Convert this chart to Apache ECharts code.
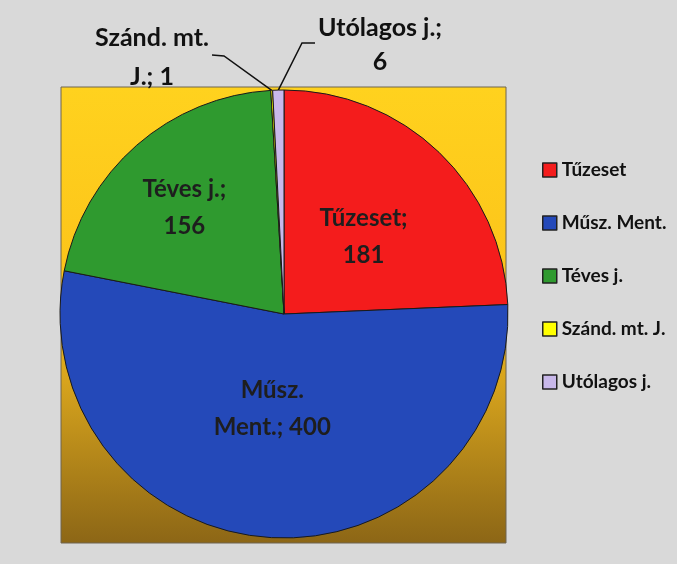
<!DOCTYPE html>
<html>
<head>
<meta charset="utf-8">
<script src="https://cdn.jsdelivr.net/npm/echarts@6/dist/echarts.min.js"></script>
<style>
  html, body { margin: 0; padding: 0; background: #d9d9d9; }
  #chart { width: 677px; height: 564px; }
</style>
</head>
<body>
<div id="chart"></div>
<script>
const categories = ['Tűzeset', 'Műsz. Ment.', 'Téves j.', 'Szánd. mt. J.', 'Utólagos j.'];
const values = [181, 400, 156, 1, 6];
const labelHeads = ['Tűzeset;\n', 'Műsz.\nMent.; ', 'Téves j.;\n', 'Szánd. mt.\nJ.; ', 'Utólagos j.;\n'];
const colors = ['#f41c1c', '#2449b9', '#2f9a2f', '#ffff00', '#c8b8ea'];

const chart = echarts.init(document.getElementById('chart'));

const option = {
    backgroundColor: '#d9d9d9',
    animation: false,
    graphic: [{
        type: 'rect',
        z: 0,
        shape: { x: 61, y: 87, width: 445, height: 456 },
        style: {
            fill: new echarts.graphic.LinearGradient(0, 0, 0, 1, [
                { offset: 0, color: '#ffd21e' },
                { offset: 0.42, color: '#fcc41a' },
                { offset: 0.65, color: '#d6a31d' },
                { offset: 1, color: '#8c6616' }
            ]),
            stroke: '#6e6450',
            lineWidth: 1
        }
    }],
    legend: {
        orient: 'vertical',
        left: 537,
        top: 155,
        itemWidth: 14,
        itemHeight: 14,
        itemGap: 33,
        icon: 'rect',
        itemStyle: { borderColor: '#222', borderWidth: 1.5 },
        textStyle: {
            fontFamily: 'Lato',
            fontWeight: 'bold',
            fontSize: 19,
            lineHeight: 20,
            color: '#111'
        },
        data: categories
    },
    series: [{
        type: 'pie',
        center: [284, 314],
        radius: 224,
        startAngle: 90,
        clockwise: true,
        z: 3,
        itemStyle: { borderColor: '#1a1a1a', borderWidth: 1 },
        label: {
            position: 'inside',
            fontFamily: 'Lato',
            fontWeight: 'bold',
            fontSize: 24,
            lineHeight: 37,
            color: '#1e1e1e',
            formatter: p => labelHeads[p.dataIndex] + p.value
        },
        labelLine: { show: false },
        labelLayout: function (params) {
            const p0 = params.labelLinePoints ? params.labelLinePoints[0] : null;
            if (params.dataIndex === 3) {
                return {
                    x: 152, y: 57, align: 'center', verticalAlign: 'middle',
                    labelLinePoints: [p0, [224, 56], [212, 55]]
                };
            }
            if (params.dataIndex === 4) {
                return {
                    x: 380, y: 45, align: 'center', verticalAlign: 'middle',
                    labelLinePoints: [p0, [302, 43], [315, 43]]
                };
            }
            if (params.dataIndex === 0) return { dx: 0, dy: 6 };
            if (params.dataIndex === 1) return { dx: -3, dy: -20 };
            if (params.dataIndex === 2) return { dx: -24, dy: -20 };
            return {};
        },
        data: categories.map((name, i) => {
            const item = { name: name, value: values[i], itemStyle: { color: colors[i] } };
            if (i >= 3) {
                item.label = {
                    position: 'outside',
                    fontWeight: 'bold',
                    fontSize: 25,
                    lineHeight: i === 3 ? 39 : 34,
                    color: '#111',
                    overflow: 'none',
                    width: 200
                };
                item.labelLine = {
                    show: true,
                    length: 10,
                    length2: 10,
                    lineStyle: { color: '#111', width: 1.5 }
                };
            }
            return item;
        })
    }]
};

chart.setOption(option);
</script>
</body>
</html>
